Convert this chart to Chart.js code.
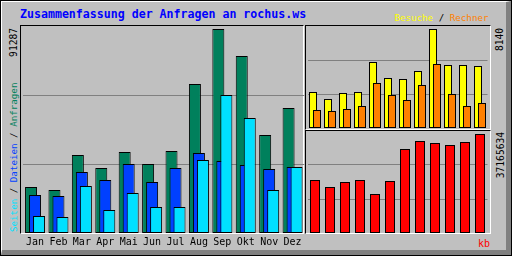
<!DOCTYPE html>
<html>
<head>
<meta charset="utf-8">
<script src="https://cdn.jsdelivr.net/npm/chart.js@4"></script>
<style>
body { margin: 0; background: #c0c0c0; }
#wrap { position: relative; width: 512px; height: 256px; background: #c0c0c0; overflow: hidden;
        font-family: 'DejaVu Sans Mono', monospace; }
#wrap div { position: absolute; box-sizing: border-box; white-space: nowrap; }
canvas { position: absolute; z-index: 2; }
.frame { border-style: solid; border-width: 1px; border-color: #000 #fff #fff #000; z-index: 1; }
.up { transform-origin: 0 0; transform: rotate(-90deg); line-height: 1; }
.upend { transform-origin: 0 0; transform: rotate(-90deg) translateX(-100%); line-height: 1; }
</style>
</head>
<body>
<div id="wrap">
  <div style="left:0;top:0;width:512px;height:256px;border:1px solid #000"></div>
  <div style="left:1px;top:1px;width:510px;height:254px;border-style:solid;border-width:1px 5px 5px 1px;border-color:#fff #808080 #808080 #fff"></div>

  <div style="left:20px;top:9px;font-size:11.6px;line-height:11.6px;font-weight:bold;color:#0000ff">Zusammenfassung der Anfragen an rochus.ws</div>
  <div style="right:23.5px;top:13px;font-size:9.2px;line-height:9.2px"><span style="color:#ffff00">Besuche</span><span style="color:#000"> / </span><span style="color:#ff8000">Rechner</span></div>

  <div class="up" style="left:8.5px;top:232px;font-size:9.2px"><span style="color:#00e0ff">Seiten</span><span style="color:#000"> / </span><span style="color:#0040ff">Dateien</span><span style="color:#000"> / </span><span style="color:#00805c">Anfragen</span></div>
  <div class="upend" style="left:8.5px;top:27.5px;font-size:9.6px;color:#000">91287</div>
  <div class="upend" style="left:495.2px;top:28px;font-size:9.6px;color:#000">8140</div>
  <div class="upend" style="left:495.5px;top:132px;font-size:9.6px;color:#000">37165634</div>
  <div style="right:22px;top:239px;font-size:10px;line-height:10px;color:#ff0000">kb</div>

  <div class="frame" style="left:20px;top:25px;width:284px;height:209px"></div>
  <div class="frame" style="left:305px;top:25px;width:186px;height:105px"></div>
  <div class="frame" style="left:305px;top:130px;width:186px;height:104px"></div>

  <canvas id="main" width="282" height="230" style="left:23px;top:26px"></canvas>
  <canvas id="visits" width="181" height="102" style="left:307px;top:26px"></canvas>
  <canvas id="kbytes" width="181" height="102" style="left:307px;top:131px"></canvas>
</div>
<script>
const months = ['Jan', 'Feb', 'Mar', 'Apr', 'Mai', 'Jun', 'Jul', 'Aug', 'Sep', 'Okt', 'Nov', 'Dez'];

// Anfragen / Dateien / Seiten (hits, files, pages)
const anfragen = [20580, 19240, 34900, 29090, 36250, 30880, 36700, 66680, 91287, 79210, 43860, 55940];
const dateien  = [17000, 16560, 27300, 23720, 30880, 22820, 29090, 35800, 32220, 30430, 28640, 29540];
const seiten   = [7610, 7160, 21030, 10290, 17900, 11640, 11640, 32670, 61750, 51460, 19240, 29540];

// Besuche / Rechner (visits, sites)
const besuche = [2960, 2384, 2878, 2960, 5427, 4111, 4029, 4687, 8140, 5180, 5180, 5098];
const rechner = [1480, 1398, 1562, 1809, 3700, 2713, 2302, 3536, 5262, 2796, 1809, 2056];

// kb
const kbytes = [19897000, 17269000, 19146000, 19897000, 14641000, 19521000, 31534000,
                34538000, 33787000, 33036000, 34162000, 37165634];

Chart.defaults.font.family = "'DejaVu Sans Mono', monospace";

function barSet(values, color, shift, width, order) {
    return {
        data: values.map((v, i) => ({ x: i + shift, y: v })),
        backgroundColor: color,
        borderColor: '#000000',
        borderWidth: 1,
        borderSkipped: false,
        inflateAmount: 0,
        barThickness: width,
        grouped: false,
        order: order
    };
}

function makeChart(id, datasets, yMax, showMonths, padding) {
    const ctx = document.getElementById(id).getContext('2d');
    return new Chart(ctx, {
        type: 'bar',
        data: { datasets: datasets },
        options: {
            responsive: false,
            animation: false,
            layout: { padding: padding },
            plugins: { legend: { display: false }, tooltip: { enabled: false } },
            scales: {
                x: {
                    type: 'linear',
                    display: showMonths,
                    offset: false,
                    min: -0.5,
                    max: 11.5,
                    grid: { display: false, drawTicks: false },
                    border: { display: false },
                    afterBuildTicks: s => { s.ticks = months.map((m, i) => ({ value: i })); },
                    afterFit: s => { if (showMonths) s.height = 23; },
                    ticks: {
                        callback: v => months[v],
                        color: '#000000',
                        font: { size: 10 },
                        padding: 3,
                        maxRotation: 0,
                        autoSkip: false
                    }
                },
                y: {
                    min: 0,
                    max: yMax,
                    grid: { color: '#808080', lineWidth: 1, drawTicks: false },
                    border: { display: false },
                    ticks: { display: false },
                    afterBuildTicks: s => { s.ticks = [{ value: yMax / 3 }, { value: yMax * 2 / 3 }]; }
                }
            }
        }
    });
}

// shift is in month units, 4px of a ~23.4px slot
makeChart('main', [
    barSet(anfragen, '#00805c', -0.171, 12, 3),
    barSet(dateien, '#0040ff', 0, 12, 2),
    barSet(seiten, '#00e0ff', 0.171, 12, 1)
], 92640, true, { left: 0.29, right: 0.71, top: 0, bottom: 0 });

makeChart('visits', [
    barSet(besuche, '#ffff00', -0.1333, 8, 2),
    barSet(rechner, '#ff8000', 0.1333, 8, 1)
], 8388, false, { left: 0.5, right: 0.5, top: 0, bottom: 0 });

makeChart('kbytes', [
    barSet(kbytes, '#ff0000', 0, 10, 1)
], 38290000, false, { left: 0.5, right: 0.5, top: 0, bottom: 0 });
</script>
</body>
</html>
